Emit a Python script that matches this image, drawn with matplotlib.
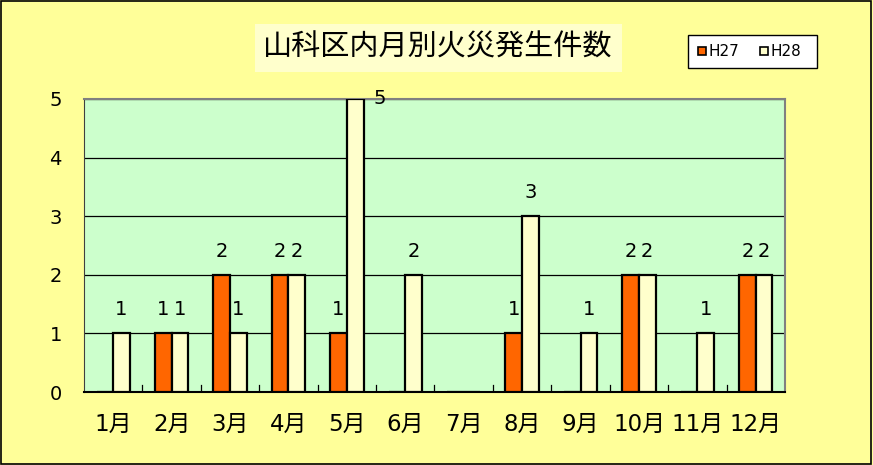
import numpy as np
import matplotlib.pyplot as plt
from matplotlib.patches import Rectangle

plt.rcParams['font.family'] = ['DejaVu Sans', 'Noto Sans CJK JP']

months = ["1月", "2月", "3月", "4月", "5月", "6月", "7月", "8月", "9月", "10月", "11月", "12月"]
h27 = [0, 1, 2, 2, 1, 0, 0, 1, 0, 2, 0, 2]
h28 = [1, 1, 1, 2, 5, 2, 0, 3, 1, 2, 1, 2]
yticks = [0, 1, 2, 3, 4, 5]

fig = plt.figure(figsize=(8.73, 4.65), dpi=100, facecolor="#FFFF99")
fig.patches.append(Rectangle((0.001, 0.002), 0.997, 0.996, transform=fig.transFigure,
                             fill=False, edgecolor="black", linewidth=1.2))

ax = fig.add_axes([84 / 873, 73 / 465, 701 / 873, 293 / 465])
ax.set_facecolor("#CCFFCC")

x = np.arange(len(months))
w = 0.285
ax.bar(x - w / 2, h27, w, color="#FF6600", edgecolor="black", linewidth=1.6, zorder=3)
ax.bar(x + w / 2, h28, w, color="#FFFFCC", edgecolor="black", linewidth=1.6, zorder=3)

ax.set_xlim(-0.5, len(months) - 0.5)
ax.set_ylim(0, 5)
ax.set_yticks(yticks)
ax.set_yticklabels([str(v) for v in yticks])
ax.yaxis.grid(True, color="black", linewidth=0.9, zorder=1)
ax.set_axisbelow(True)

ax.set_xticks(x)
ax.set_xticklabels(months)
ax.tick_params(axis="x", length=0, pad=15, labelsize=16.5)
ax.tick_params(axis="y", length=0, pad=16, labelsize=14)
for b in np.arange(0.5, len(months) - 0.5, 1):
    ax.plot([b, b], [0, 0.12], color="black", linewidth=0.9, zorder=2)

for s in ["top", "right"]:
    ax.spines[s].set_color("#808080")
    ax.spines[s].set_linewidth(1.5)
ax.spines["left"].set_color("#404040")
ax.spines["bottom"].set_color("black")
ax.spines["bottom"].set_linewidth(1.5)

lab = dict(fontsize=14, ha="center", va="center")
for i in range(len(months)):
    for off, vals in ((-w / 2, h27), (w / 2, h28)):
        v = vals[i]
        if v == 0:
            continue
        if v >= 5:
            ax.text(x[i] + off + 0.42, v, str(v), clip_on=False, **lab)
        else:
            ax.text(x[i] + off, v + 0.4, str(v), **lab)

fig.text(438 / 873, 1 - 48 / 465, "山科区内月別火災発生件数", fontsize=21, ha="center", va="center",
         family=['Noto Sans CJK JP'],
         bbox=dict(boxstyle="square,pad=0.3", facecolor="#FFFFCC", edgecolor="none"))

# legend box
lx0, ly0, lx1, ly1 = 688 / 873, 1 - 68 / 465, 817 / 873, 1 - 35 / 465
fig.patches.append(Rectangle((lx0, ly0), lx1 - lx0, ly1 - ly0, transform=fig.transFigure,
                             facecolor="white", edgecolor="black", linewidth=1))
ym = (ly0 + ly1) / 2
for sx, col, name in ((698, "#FF6600", "H27"), (760, "#FFFFCC", "H28")):
    fig.patches.append(Rectangle((sx / 873, ym - 4 / 465), 8 / 873, 8 / 465, transform=fig.transFigure,
                                 facecolor=col, edgecolor="black", linewidth=1.2))
    fig.text((sx + 10) / 873, ym, name, fontsize=11, va="center", ha="left")

fig.savefig("out.png", dpi=100, facecolor=fig.get_facecolor())
